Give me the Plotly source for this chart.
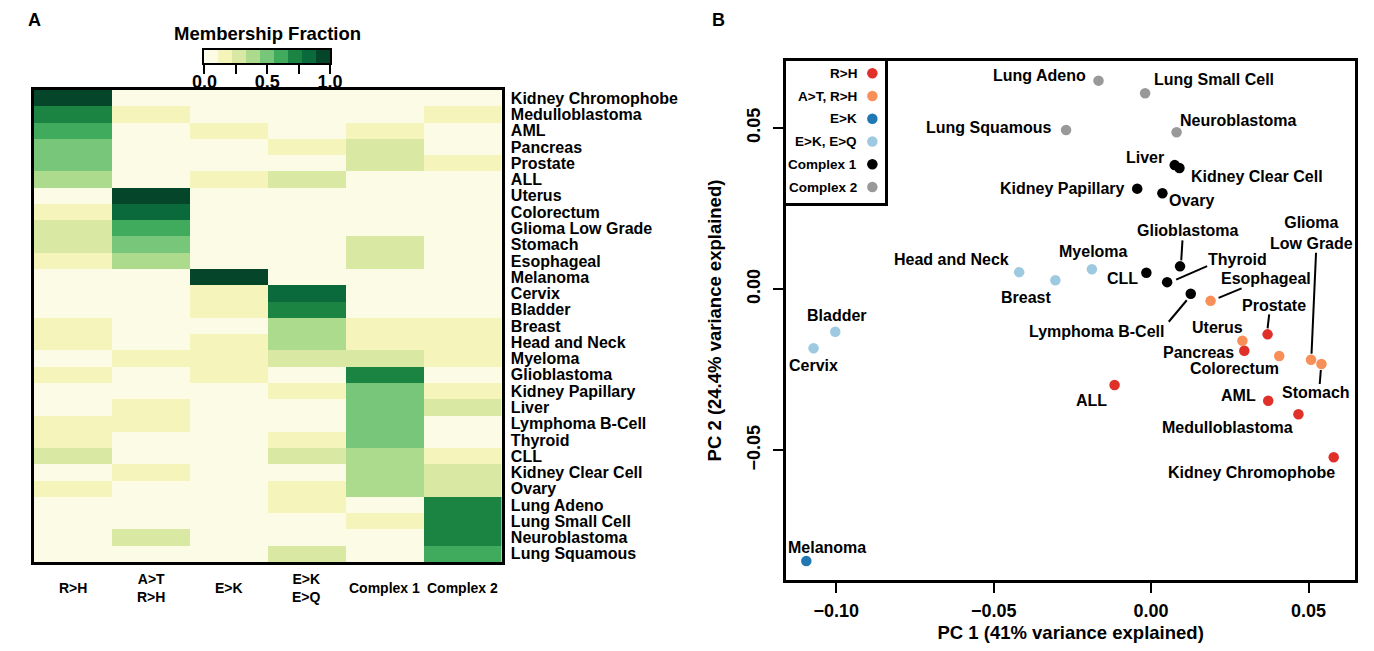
import plotly.graph_objects as go

# ---------------- Panel A data: membership fractions ----------------
cancers = ["Kidney Chromophobe", "Medulloblastoma", "AML", "Pancreas", "Prostate", "ALL",
           "Uterus", "Colorectum", "Glioma Low Grade", "Stomach", "Esophageal", "Melanoma",
           "Cervix", "Bladder", "Breast", "Head and Neck", "Myeloma", "Glioblastoma",
           "Kidney Papillary", "Liver", "Lymphoma B-Cell", "Thyroid", "CLL",
           "Kidney Clear Cell", "Ovary", "Lung Adeno", "Lung Small Cell", "Neuroblastoma",
           "Lung Squamous"]
signatures = ["R>H", "A>T<br>R>H", "E>K", "E>K<br>E>Q", "Complex 1", "Complex 2"]

frac_RH = [0.95, 0.72, 0.60, 0.50, 0.50, 0.38, 0.03, 0.15, 0.25, 0.25, 0.15, 0.02, 0.02, 0.03,
           0.15, 0.14, 0.05, 0.15, 0.05, 0.05, 0.15, 0.15, 0.25, 0.06, 0.15, 0.04, 0.03, 0.05, 0.04]
frac_AT_RH = [0.02, 0.15, 0.05, 0.05, 0.05, 0.05, 0.95, 0.83, 0.60, 0.50, 0.38, 0.02, 0.03, 0.03,
              0.05, 0.05, 0.15, 0.05, 0.05, 0.15, 0.15, 0.05, 0.05, 0.15, 0.05, 0.04, 0.03, 0.25, 0.04]
frac_EK = [0.01, 0.03, 0.15, 0.05, 0.04, 0.15, 0.01, 0.01, 0.05, 0.05, 0.05, 0.95, 0.15, 0.15,
           0.05, 0.15, 0.15, 0.15, 0.04, 0.05, 0.05, 0.05, 0.05, 0.04, 0.04, 0.03, 0.03, 0.04, 0.03]
frac_EK_EQ = [0.01, 0.04, 0.05, 0.15, 0.05, 0.25, 0.01, 0.01, 0.05, 0.05, 0.05, 0.01, 0.83, 0.72,
              0.38, 0.38, 0.25, 0.05, 0.15, 0.05, 0.05, 0.15, 0.25, 0.05, 0.15, 0.15, 0.05, 0.05, 0.25]
frac_C1 = [0.01, 0.03, 0.15, 0.25, 0.25, 0.05, 0.01, 0.02, 0.05, 0.25, 0.25, 0.01, 0.02, 0.04,
           0.15, 0.15, 0.25, 0.72, 0.50, 0.50, 0.50, 0.50, 0.38, 0.38, 0.38, 0.05, 0.15, 0.05, 0.05]
frac_C2 = [0.01, 0.15, 0.05, 0.05, 0.15, 0.05, 0.01, 0.02, 0.05, 0.05, 0.05, 0.01, 0.02, 0.04,
           0.15, 0.15, 0.15, 0.05, 0.15, 0.25, 0.05, 0.05, 0.15, 0.25, 0.25, 0.72, 0.72, 0.72, 0.60]

# YlGn 9-class palette (discrete colour bar)
ylgn = ["#fcfce6", "#f5f5bb", "#d9e8a3", "#addb8e", "#78c679",
        "#41ab5d", "#1b8443", "#0b6a3b", "#05452a"]
cbar_tickvals = [0, 0.25, 0.5, 0.75, 1.0]
cbar_ticktext = ["0.0", "", "0.5", "", "1.0"]
cbar_title = "Membership Fraction"

# ---------------- Panel B data: PCA ----------------
groups = ["R>H", "A>T, R>H", "E>K", "E>K, E>Q", "Complex 1", "Complex 2"]
group_colors = ["#e0302a", "#f88f58", "#1f78b4", "#9ecae1", "#000000", "#999999"]

pca_names = ["Lung Adeno", "Lung Small Cell", "Lung Squamous", "Neuroblastoma",
             "Liver", "Kidney Clear Cell", "Kidney Papillary", "Ovary", "Glioblastoma",
             "CLL", "Thyroid", "Lymphoma B-Cell",
             "Head and Neck", "Breast", "Myeloma", "Bladder", "Cervix",
             "Esophageal", "Uterus", "Colorectum", "Glioma Low Grade", "Stomach",
             "Prostate", "Pancreas", "ALL", "AML", "Medulloblastoma", "Kidney Chromophobe",
             "Melanoma"]
pc1 = [-0.0167, -0.0019, -0.0270, 0.0081,
       0.0075, 0.0090, -0.0044, 0.0036, 0.0092,
       -0.0015, 0.0051, 0.0126,
       -0.0419, -0.0304, -0.0188, -0.1003, -0.1072,
       0.0189, 0.0290, 0.0407, 0.0508, 0.0541,
       0.0370, 0.0296, -0.0116, 0.0372, 0.0468, 0.0580,
       -0.1095]
pc2 = [0.0647, 0.0608, 0.0494, 0.0487,
       0.0385, 0.0376, 0.0312, 0.0298, 0.0071,
       0.0051, 0.0022, -0.0014,
       0.0053, 0.0028, 0.0062, -0.0132, -0.0183,
       -0.0036, -0.0160, -0.0207, -0.0219, -0.0232,
       -0.0140, -0.0191, -0.0297, -0.0346, -0.0388, -0.0521,
       -0.0843]
pca_group = ["Complex 2"] * 4 + ["Complex 1"] * 8 + ["E>K, E>Q"] * 5 + \
            ["A>T, R>H"] * 5 + ["R>H"] * 6 + ["E>K"]

# label placement (styling): xanchor, xshift(px), yshift(px, up), optional leader line
label_style = {
    "Lung Adeno": ("right", -11, 5, None),
    "Lung Small Cell": ("left", 7, 14, None),
    "Lung Squamous": ("right", -13, 2, None),
    "Neuroblastoma": ("left", 1, 12, None),
    "Liver": ("right", -9, 8, None),
    "Kidney Clear Cell": ("left", 10, -8, None),
    "Kidney Papillary": ("right", -10, 0, None),
    "Ovary": ("left", 5, -7, None),
    "Glioblastoma": ("center", 7, 36, (2.4, 26, 1.2, 6)),
    "CLL": ("right", -6, -6, None),
    "Thyroid": ("left", 39, 23, (40, 16, 9, 2.5)),
    "Lymphoma B-Cell": ("right", -25, -38, (-22, -28, -4, -6.5)),
    "Head and Neck": ("right", -8, 13, None),
    "Breast": ("center", -29, -17, None),
    "Myeloma": ("center", 2, 18, None),
    "Bladder": ("center", 2, 16, None),
    "Cervix": ("center", 0, -17, None),
    "Esophageal": ("left", 8, 22, (31, 12.5, 8, 3)),
    "Uterus": ("center", -25, 13, None),
    "Colorectum": ("center", -45, -13, None),
    "Glioma Low Grade": ("center", 0, 127, (5, 107, 0.5, 6)),
    "Stomach": ("center", -5, -28, (-0.6, -6, -1.7, -20)),
    "Prostate": ("center", 6, 29, (1.6, 20, 0, 6)),
    "Pancreas": ("right", -8, -2, None),
    "ALL": ("right", -6, -16, None),
    "AML": ("right", -10, 5, None),
    "Medulloblastoma": ("center", -71, -13, None),
    "Kidney Chromophobe": ("center", -82, -15, None),
    "Melanoma": ("center", 21, 13, None),
}
label_text = {"Glioma Low Grade": "Glioma<br>Low Grade"}

# ---------------- figure ----------------
# page body has an 8px margin: the figure is drawn 8px in from the window corner
OFF = 8
W, H = 1374 - OFF, 651 - OFF
FAM = "Liberation Sans, Arial, Helvetica, sans-serif"


def F(size, color="black"):
    return dict(family=FAM, size=size, color=color, weight="bold")


def px_x(p):
    return (p - OFF) / W


def px_y(p):
    return 1 - (p - OFF) / H


fig = go.Figure()

# discrete colorscale
cs = []
n = len(ylgn)
for k, c in enumerate(ylgn):
    cs.append([k / n, c])
    cs.append([(k + 1) / n, c])

columns = [frac_RH, frac_AT_RH, frac_EK, frac_EK_EQ, frac_C1, frac_C2]
z = [[col[i] for col in columns] for i in range(len(cancers))]

fig.add_trace(go.Heatmap(
    z=z, x=list(range(len(signatures))), y=list(range(len(cancers))),
    zmin=0, zmax=1, colorscale=cs, xaxis="x", yaxis="y", hoverinfo="skip",
    showscale=False,
))

# colour key drawn as its own small heatmap (one cell per colour class)
bin_centers = [(k + 0.5) / n for k in range(n)]
fig.add_trace(go.Heatmap(
    z=[bin_centers], x=bin_centers, y=[0], zmin=0, zmax=1, colorscale=cs,
    xaxis="x4", yaxis="y4", showscale=False, hoverinfo="skip",
))

# PCA points
for g, c in zip(groups, group_colors):
    xs = [pc1[i] for i in range(len(pca_names)) if pca_group[i] == g]
    ys = [pc2[i] for i in range(len(pca_names)) if pca_group[i] == g]
    fig.add_trace(go.Scatter(x=xs, y=ys, mode="markers", xaxis="x2", yaxis="y2",
                             marker=dict(size=10.5, color=c), showlegend=False,
                             hoverinfo="skip"))

# manual legend (text then dot, R style)
fig.add_trace(go.Scatter(x=[0.87] * len(groups), y=list(range(len(groups))),
                         mode="markers", xaxis="x3", yaxis="y3",
                         marker=dict(size=10.5, color=group_colors), showlegend=False,
                         hoverinfo="skip"))

annotations = []
shapes = []
for i, g in enumerate(groups):
    annotations.append(dict(x=0.735, y=i, xref="x3", yref="y3", text=g, showarrow=False,
                            xanchor="right", yanchor="middle", font=F(13.5)))

for i, name in enumerate(pca_names):
    xa, xs_, ys_, line = label_style[name]
    annotations.append(dict(x=pc1[i], y=pc2[i], xref="x2", yref="y2",
                            text=label_text.get(name, name), showarrow=False,
                            xanchor=xa, yanchor="middle", xshift=xs_, yshift=ys_,
                            font=F(16)))
    if line is not None:
        dx0, dy0, dx1, dy1 = line
        shapes.append(dict(type="line", xref="x2", yref="y2",
                           xsizemode="pixel", ysizemode="pixel",
                           xanchor=pc1[i], yanchor=pc2[i],
                           x0=dx0, y0=dy0, x1=dx1, y1=dy1,
                           line=dict(color="black", width=2)))

# heatmap column labels
for j, s in enumerate(signatures):
    annotations.append(dict(x=j, y=px_y(588), xref="x", yref="paper", text=s,
                            showarrow=False, xanchor="center", yanchor="middle",
                            font=F(14)))

# colour key title
annotations.append(dict(x=px_x(259), y=px_y(33), xref="paper", yref="paper",
                        text=cbar_title, showarrow=False, xanchor="center",
                        yanchor="middle", font=F(18.5)))

# panel letters
annotations.append(dict(x=px_x(13), y=px_y(20), xref="paper", yref="paper", text="A",
                        showarrow=False, xanchor="left", yanchor="middle", font=F(18)))
annotations.append(dict(x=px_x(710), y=px_y(20), xref="paper", yref="paper", text="B",
                        showarrow=False, xanchor="left", yanchor="middle", font=F(18)))

fig.update_layout(
    width=W, height=H, margin=dict(l=0, r=0, t=0, b=0),
    paper_bgcolor="white", plot_bgcolor="white", showlegend=False,
    font=dict(family=FAM, color="black"),
    annotations=annotations, shapes=shapes,
    xaxis=dict(domain=[px_x(21), px_x(498)], range=[-0.5, len(signatures) - 0.5],
               showticklabels=False, ticks="", showgrid=False, zeroline=False,
               showline=True, mirror=True, linewidth=3, linecolor="black"),
    yaxis=dict(domain=[px_y(562), px_y(90)], range=[len(cancers) - 0.5, -0.5],
               side="right", tickmode="array", tickvals=list(range(len(cancers))),
               ticktext=cancers, tickfont=F(16), ticks="", ticklabelstandoff=3,
               showgrid=False, zeroline=False,
               showline=True, mirror=True, linewidth=3, linecolor="black"),
    xaxis2=dict(domain=[px_x(788), px_x(1368)], range=[-0.1159, 0.0648],
                tickmode="array", tickvals=[-0.10, -0.05, 0.0, 0.05], tickformat=".2f",
                ticks="outside", ticklen=10, tickwidth=2, tickcolor="black",
                tickfont=F(18), ticklabelstandoff=3, showgrid=False, zeroline=False,
                showline=True, mirror=True, linewidth=2.5, linecolor="black",
                title=dict(text="PC 1 (41% variance explained)", font=F(18.5), standoff=6),
                anchor="y2"),
    yaxis2=dict(domain=[px_y(580), px_y(61)], range=[-0.0902, 0.0708],
                tickmode="array", tickvals=[-0.05, 0.0, 0.05], tickformat=".2f",
                tickangle=-90,
                ticks="outside", ticklen=10, tickwidth=2, tickcolor="black",
                tickfont=F(18), ticklabelstandoff=6, showgrid=False, zeroline=False,
                showline=True, mirror=True, linewidth=2.5, linecolor="black",
                title=dict(text="PC 2 (24.4% variance explained)", font=F(18.5), standoff=18),
                anchor="x2"),
    xaxis3=dict(domain=[px_x(788), px_x(889)], range=[0, 1], visible=True,
                showticklabels=False, ticks="", showgrid=False, zeroline=False,
                showline=True, mirror=True, linewidth=2.5, linecolor="black",
                anchor="y3"),
    yaxis3=dict(domain=[px_y(203), px_y(61)], range=[5.7, -0.54],
                showticklabels=False, ticks="", showgrid=False, zeroline=False,
                showline=True, mirror=True, linewidth=2.5, linecolor="black",
                anchor="x3"),
    xaxis4=dict(domain=[px_x(195), px_x(323)], range=[0, 1],
                tickmode="array", tickvals=cbar_tickvals, ticktext=cbar_ticktext,
                ticks="outside", ticklen=9, tickwidth=2, tickcolor="black",
                tickfont=F(18), ticklabelstandoff=-8, showgrid=False, zeroline=False,
                showline=True, mirror=True, linewidth=2, linecolor="black",
                anchor="y4"),
    yaxis4=dict(domain=[px_y(63), px_y(50)], range=[-0.5, 0.5],
                showticklabels=False, ticks="", showgrid=False, zeroline=False,
                showline=True, mirror=True, linewidth=2, linecolor="black",
                anchor="x4"),
)

fig.write_html("out.html")
